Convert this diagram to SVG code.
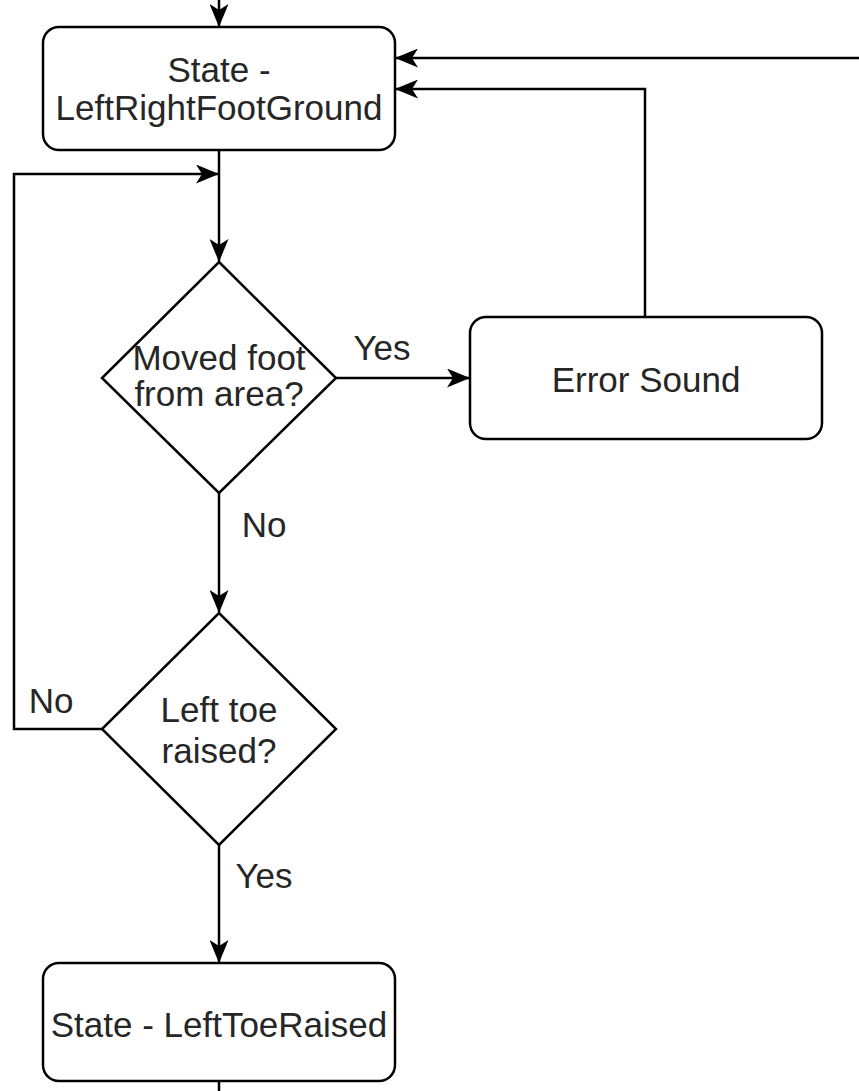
<svg xmlns="http://www.w3.org/2000/svg" width="859" height="1091" viewBox="0 0 859 1091">
  <style>
    .node { fill: #ffffff; stroke: #000000; stroke-width: 2.5; }
    .edge { fill: none; stroke: #000000; stroke-width: 2.5; }
    .label { font-family: "Liberation Sans", Arial, sans-serif; font-size: 35px; fill: #262626; text-anchor: middle; }
  </style>
  <defs>
    <marker id="arrow" viewBox="0 0 23 19" refX="22" refY="9.5" markerWidth="23" markerHeight="19" markerUnits="userSpaceOnUse" orient="auto">
      <path d="M0,0 L23,9.5 L0,19 L6,9.5 Z" fill="#000000"/>
    </marker>
  </defs>

  <g id="connectors">
    <!-- incoming from above -->
    <path class="edge" d="M219,0 V26" marker-end="url(#arrow)"/>
    <!-- incoming from the right -->
    <path class="edge" d="M859,58 H396" stroke="#444444" stroke-width="3.2" marker-end="url(#arrow)"/>
    <!-- error sound back to state -->
    <path class="edge" d="M645,317 V89 H396" marker-end="url(#arrow)"/>
    <!-- state to first decision -->
    <path class="edge" d="M219,150 V261" marker-end="url(#arrow)"/>
    <!-- Yes to error sound -->
    <path class="edge" d="M336,378 H469" marker-end="url(#arrow)"/>
    <!-- No down to second decision -->
    <path class="edge" d="M219,493 V612" marker-end="url(#arrow)"/>
    <!-- No loop back -->
    <path class="edge" d="M102,729 H14 V174 H218" marker-end="url(#arrow)"/>
    <!-- Yes down to LeftToeRaised -->
    <path class="edge" d="M219,845 V962" marker-end="url(#arrow)"/>
    <!-- outgoing below -->
    <path class="edge" d="M219,1081 V1091"/>
    <text class="label" x="382" y="360">Yes</text>
    <text class="label" x="264" y="537">No</text>
    <text class="label" x="51" y="713">No</text>
    <text class="label" x="264" y="888">Yes</text>
  </g>

  <g id="state-leftrightfootground">
    <rect class="node" x="43" y="27" width="352" height="123" rx="16"/>
    <text class="label" x="219" y="82">State -</text>
    <text class="label" x="219" y="120">LeftRightFootGround</text>
  </g>

  <g id="decision-moved-foot">
    <polygon class="node" points="219,262 336,378 219,493 102,378"/>
    <text class="label" x="219" y="370">Moved foot</text>
    <text class="label" x="219" y="406">from area?</text>
  </g>

  <g id="error-sound">
    <rect class="node" x="470" y="317" width="352" height="122" rx="16"/>
    <text class="label" x="646" y="392">Error Sound</text>
  </g>

  <g id="decision-left-toe">
    <polygon class="node" points="219,613 336,729 219,845 102,729"/>
    <text class="label" x="219" y="722">Left toe</text>
    <text class="label" x="219" y="763">raised?</text>
  </g>

  <g id="state-lefttoeraised">
    <rect class="node" x="43" y="963" width="352" height="118" rx="16"/>
    <text class="label" x="219" y="1037">State - LeftToeRaised</text>
  </g>
</svg>
